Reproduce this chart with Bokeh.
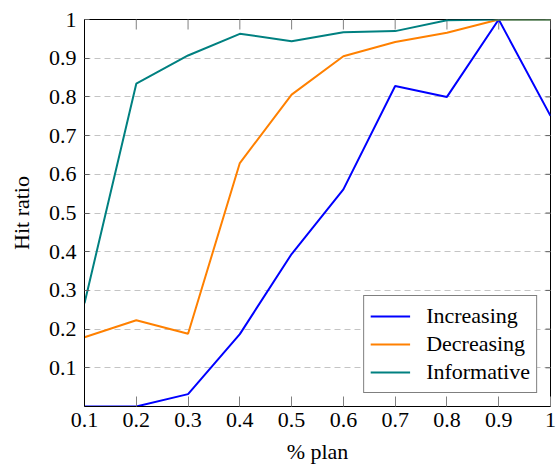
import math
from bokeh.plotting import figure
from bokeh.models import FixedTicker, Range1d, Legend, LegendItem, CustomJSTickFormatter
from bokeh.embed import file_html
from bokeh.resources import INLINE

# Data
x_plan = [0.1, 0.2, 0.3, 0.4, 0.5, 0.6, 0.7, 0.8, 0.9, 1.0]
increasing = [0.0, 0.0, 0.032, 0.187, 0.394, 0.561, 0.828, 0.800, 1.0, 0.751]
decreasing = [0.179, 0.223, 0.188, 0.629, 0.806, 0.905, 0.942, 0.966, 1.0, 1.0]
informative = [0.267, 0.834, 0.907, 0.963, 0.944, 0.967, 0.970, 0.998, 1.0, 1.0]
series_names = ["Increasing", "Decreasing", "Informative"]
series_colors = ["#0000ff", "#ff8000", "#008080"]
x_ticks = [0.1, 0.2, 0.3, 0.4, 0.5, 0.6, 0.7, 0.8, 0.9, 1.0]
y_ticks = [0.1, 0.2, 0.3, 0.4, 0.5, 0.6, 0.7, 0.8, 0.9, 1.0]

FONT = "Liberation Serif, serif"
FS = "22px"

p = figure(width=556, height=466, x_range=Range1d(0.1, 1.0), y_range=Range1d(0.0, 1.0),
           output_backend="svg", toolbar_location=None,
           min_border_left=84, min_border_right=6, min_border_top=19, min_border_bottom=59,
           x_axis_label="% plan", y_axis_label="Hit ratio")
p.outline_line_color = "black"
p.outline_line_width = 1

fmt = CustomJSTickFormatter(code="return tick >= 0.999 ? '1' : tick.toFixed(1);")

for ax in p.xaxis:
    ax.ticker = FixedTicker(ticks=x_ticks)
    ax.formatter = fmt
    ax.major_tick_in = 10
    ax.major_tick_out = 0
    ax.major_tick_line_color = "#808080"
    ax.minor_tick_line_color = None
    ax.axis_line_color = "black"
    ax.major_label_text_font = FONT
    ax.major_label_text_font_size = FS
    ax.major_label_text_color = "black"
    ax.major_label_standoff = 6
    ax.axis_label_text_font = FONT
    ax.axis_label_text_font_size = FS
    ax.axis_label_text_font_style = "normal"
    ax.axis_label_text_color = "black"
    ax.axis_label_standoff = 9

for ax in p.yaxis:
    ax.ticker = FixedTicker(ticks=y_ticks)
    ax.formatter = fmt
    ax.major_tick_in = 5
    ax.major_tick_out = 0
    ax.major_tick_line_color = "#606060"
    ax.minor_tick_line_color = None
    ax.axis_line_color = "black"
    ax.major_label_text_font = FONT
    ax.major_label_text_font_size = FS
    ax.major_label_text_color = "black"
    ax.major_label_standoff = 8
    ax.axis_label_text_font = FONT
    ax.axis_label_text_font_size = FS
    ax.axis_label_text_font_style = "normal"
    ax.axis_label_text_color = "black"
    ax.axis_label_standoff = 12

p.xgrid.visible = False
p.ygrid.ticker = FixedTicker(ticks=y_ticks[:-1])
p.ygrid.grid_line_color = "#c4c4c4"
p.ygrid.grid_line_dash = "6 4"
p.ygrid.grid_line_width = 1

# inward ticks on top and right edges (half of each dash is clipped by the frame)
p.scatter(x_ticks, [1.0] * len(x_ticks), marker="dash", size=20, angle=math.pi / 2,
          line_color="#808080", line_width=1)
p.scatter([1.0] * len(y_ticks), y_ticks, marker="dash", size=10,
          line_color="#606060", line_width=1)

renderers = []
for ys, c in zip([increasing, decreasing, informative], series_colors):
    r = p.line(x_plan, ys, line_color=c, line_width=2)
    renderers.append(r)

legend = Legend(items=[LegendItem(label=n, renderers=[r]) for n, r in zip(series_names, renderers)],
                location="bottom_right", border_line_color="black", border_line_width=1,
                label_text_font=FONT, label_text_font_size=FS, label_text_color="black",
                glyph_width=40, glyph_height=28, label_height=28, spacing=0, padding=6,
                margin=13, label_standoff=16, background_fill_alpha=1.0)
p.add_layout(legend, "center")

open("out.html", "w").write(file_html(p, INLINE))
